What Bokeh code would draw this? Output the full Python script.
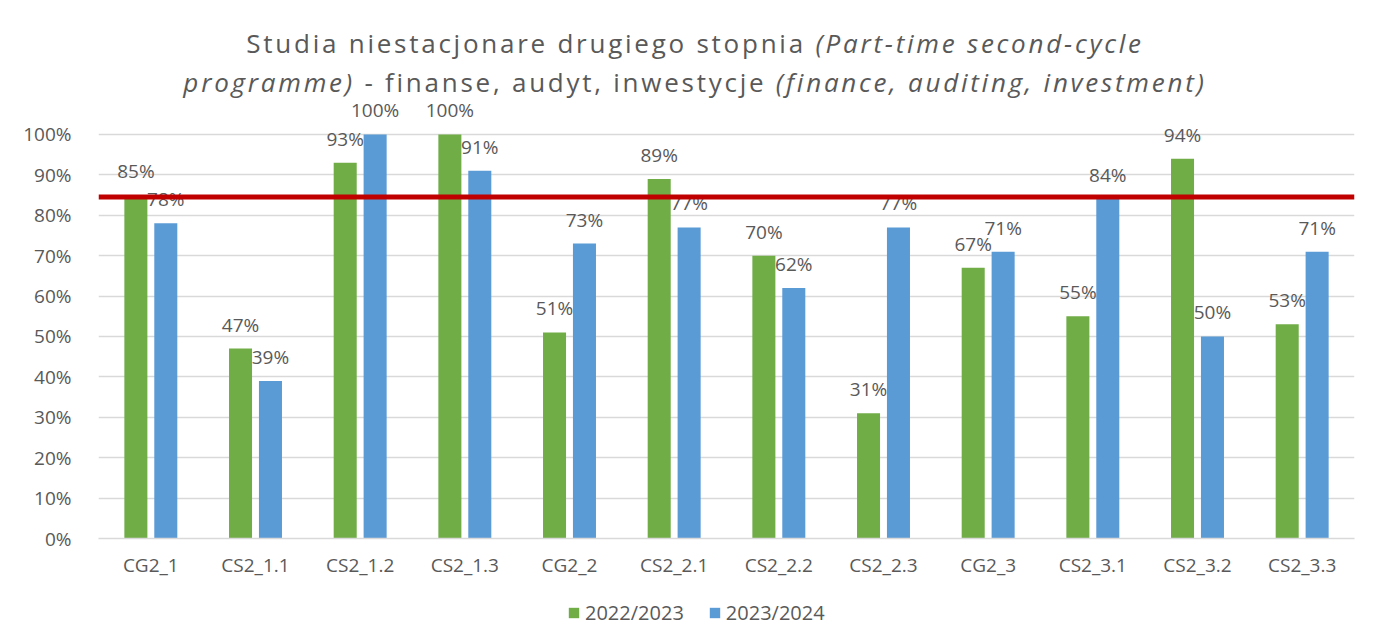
from bokeh.plotting import figure
from bokeh.models import (ColumnDataSource, FactorRange, Range1d, Span, Legend, LegendItem,
                          NumeralTickFormatter, FixedTicker, Div)
from bokeh.layouts import column
from bokeh.transform import dodge
from bokeh.core.properties import value
from bokeh.embed import file_html
from bokeh.resources import INLINE

# ---- data ----
categories = ["CG2_1", "CS2_1.1", "CS2_1.2", "CS2_1.3", "CG2_2", "CS2_2.1",
              "CS2_2.2", "CS2_2.3", "CG2_3", "CS2_3.1", "CS2_3.2", "CS2_3.3"]
y2022 = [0.85, 0.47, 0.93, 1.00, 0.51, 0.89, 0.70, 0.31, 0.67, 0.55, 0.94, 0.53]
y2023 = [0.78, 0.39, 1.00, 0.91, 0.73, 0.77, 0.62, 0.77, 0.71, 0.84, 0.50, 0.71]
series_names = ["2022/2023", "2023/2024"]
threshold = 0.845
y_ticks = [0.0, 0.1, 0.2, 0.3, 0.4, 0.5, 0.6, 0.7, 0.8, 0.9, 1.0]

GREEN = "#70AD47"
BLUE = "#5B9BD5"
RED = "#C00000"
TXT = "#595959"
GRID = "#D9D9D9"
FONT = "Open Sans"

src = ColumnDataSource(dict(
    cat=categories,
    y2022=y2022,
    y2023=y2023,
    lab2022=[f"{round(v * 100)}%" for v in y2022],
    lab2023=[f"{round(v * 100)}%" for v in y2023],
))

title_html = (
    "<div style=\"font-family:'Open Sans';font-size:26px;color:#595959;line-height:39px;"
    "letter-spacing:2.75px;text-align:center;padding-top:19px;padding-left:23px;"
    "box-sizing:border-box;width:1357px;white-space:nowrap\">"
    "Studia niestacjonare drugiego stopnia <i>(Part-time second-cycle</i><br>"
    "<i>programme)</i> - finanse, audyt, inwestycje <i>(finance, auditing, investment)</i>"
    "</div>"
)
div = Div(text=title_html, width=1357, height=88)

p = figure(x_range=FactorRange(factors=categories), y_range=Range1d(0, 1.089),
           width=1357, height=490, output_backend="svg", toolbar_location=None,
           min_border_left=98, min_border_right=3, min_border_top=0, min_border_bottom=50)
p.outline_line_color = None

off = 0.143
bw = 0.22
r1 = p.vbar(x=dodge("cat", -off, range=p.x_range), top="y2022", width=bw, source=src,
            fill_color=GREEN, line_color=None)
r2 = p.vbar(x=dodge("cat", off, range=p.x_range), top="y2023", width=bw, source=src,
            fill_color=BLUE, line_color=None)

p.add_layout(Span(location=threshold, dimension="width", line_color=RED, line_width=5))

for key, lab, o in (("y2022", "lab2022", -off), ("y2023", "lab2023", off)):
    p.text(x=dodge("cat", o, range=p.x_range), y=key, text=lab, source=src,
           text_align="center", text_baseline="alphabetic", y_offset=-24,
           text_font=value(FONT), text_font_size="19px", text_color=TXT)

p.ygrid.grid_line_color = GRID
p.ygrid.grid_line_width = 1.5
p.xgrid.grid_line_color = None

p.yaxis.ticker = FixedTicker(ticks=y_ticks)
p.yaxis.formatter = NumeralTickFormatter(format="0%")
p.yaxis.axis_line_color = None
p.yaxis.major_tick_line_color = None
p.yaxis.minor_tick_line_color = None
p.yaxis.major_label_standoff = 21
p.yaxis.major_label_text_font = FONT
p.yaxis.major_label_text_font_size = "19px"
p.yaxis.major_label_text_color = TXT

p.xaxis.axis_line_color = GRID
p.xaxis.axis_line_width = 1.5
p.xaxis.major_tick_line_color = None
p.xaxis.minor_tick_line_color = None
p.xaxis.major_label_standoff = 7
p.xaxis.major_label_text_font = FONT
p.xaxis.major_label_text_font_size = "19px"
p.xaxis.major_label_text_color = TXT

# ---- legend strip (own small figure below the chart; its bars lie outside its view) ----
lf = figure(width=1357, height=50, output_backend="svg", toolbar_location=None,
            x_range=FactorRange(factors=categories), y_range=Range1d(2, 3),
            min_border_left=0, min_border_right=0, min_border_top=0, min_border_bottom=0)
lf.axis.visible = False
lf.grid.visible = False
lf.outline_line_color = None
k1 = lf.vbar(x=dodge("cat", -off, range=lf.x_range), top="y2022", width=bw, source=src,
             fill_color=GREEN, line_color=None)
k2 = lf.vbar(x=dodge("cat", off, range=lf.x_range), top="y2023", width=bw, source=src,
             fill_color=BLUE, line_color=None)
legend = Legend(items=[LegendItem(label=series_names[0], renderers=[k1]),
                       LegendItem(label=series_names[1], renderers=[k2])],
                orientation="horizontal", location=(469, 12),
                glyph_width=13, glyph_height=13, spacing=24, label_standoff=5,
                label_text_font=FONT, label_text_font_size="20px", label_text_color=TXT,
                border_line_color=None, background_fill_alpha=0, margin=0, padding=0)
lf.add_layout(legend)

layout = column(div, p, lf)
open("out.html", "w").write(file_html(layout, INLINE))
